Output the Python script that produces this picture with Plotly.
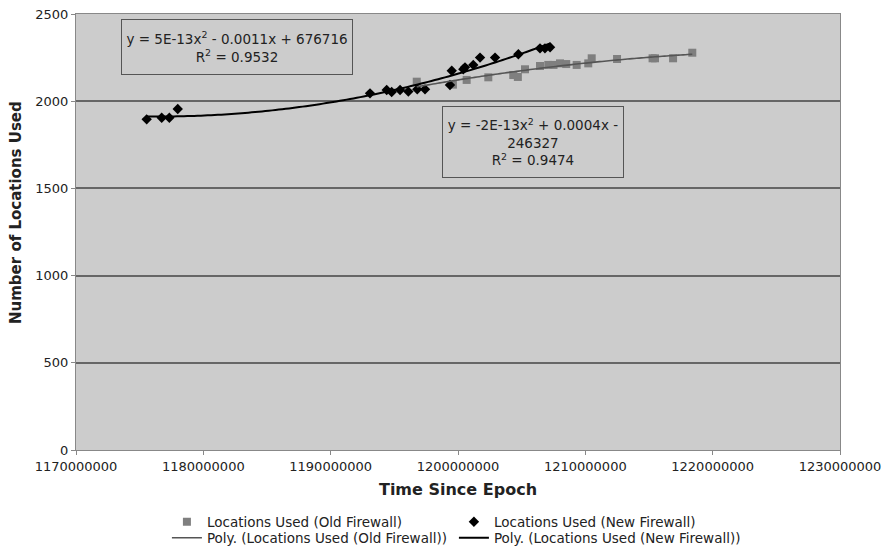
import numpy as np
import plotly.graph_objects as go

# ---- data ----
old_x = [1196760000, 1199600000, 1200680000, 1202380000, 1204340000, 1204700000,
         1205260000, 1206440000, 1207090000, 1207500000, 1208010000, 1208500000,
         1209320000, 1210230000, 1210500000, 1212490000, 1215280000, 1215470000,
         1216890000, 1218400000]
old_y = [2112, 2095, 2122, 2137, 2150, 2139,
         2183, 2202, 2208, 2208, 2217, 2213,
         2208, 2217, 2246, 2242, 2246, 2246,
         2246, 2278]

new_x = [1175550000, 1176730000, 1177330000, 1177990000, 1193090000, 1194400000,
         1194790000, 1195450000, 1196100000, 1196800000, 1197410000, 1199370000,
         1199510000, 1200420000, 1200550000, 1201200000, 1201730000, 1202910000,
         1204740000, 1206440000, 1206830000, 1207230000]
new_y = [1896, 1905, 1905, 1955, 2045, 2064,
         2053, 2064, 2055, 2068, 2068, 2093,
         2175, 2183, 2194, 2208, 2250, 2250,
         2269, 2303, 2303, 2309]

x_ticks = [1170000000, 1180000000, 1190000000, 1200000000, 1210000000, 1220000000, 1230000000]
y_ticks = [0, 500, 1000, 1500, 2000, 2500]

eq_old = "y = -2E-13x<sup>2</sup> + 0.0004x -<br>246327<br>R<sup>2</sup> = 0.9474"
eq_new = "y = 5E-13x<sup>2</sup> - 0.0011x + 676716<br>R<sup>2</sup> = 0.9532"

FONT = "DejaVu Sans"


def trend(xs, ys):
    p = np.polynomial.Polynomial.fit(np.array(xs, float), np.array(ys, float), 2)
    tx = np.linspace(min(xs), max(xs), 120)
    return tx, p(tx)


fig = go.Figure()

fig.add_trace(go.Scatter(
    x=old_x, y=old_y, mode="markers", name="Locations Used (Old Firewall)",
    marker=dict(symbol="square", size=8, color="#7f7f7f"), legend="legend"))
fig.add_trace(go.Scatter(
    x=new_x, y=new_y, mode="markers", name="Locations Used (New Firewall)",
    marker=dict(symbol="diamond", size=8, color="#000000"), legend="legend"))

tx, ty = trend(old_x, old_y)
fig.add_trace(go.Scatter(
    x=tx, y=ty, mode="lines", name="Poly. (Locations Used (Old Firewall))",
    line=dict(color="#555555", width=1.6, simplify=False), legend="legend2"))
tx, ty = trend(new_x, new_y)
fig.add_trace(go.Scatter(
    x=tx, y=ty, mode="lines", name="Poly. (Locations Used (New Firewall))",
    line=dict(color="#000000", width=2, simplify=False), legend="legend2"))

fig.add_annotation(
    xref="paper", yref="paper", x=0.211, y=0.924, xanchor="center", yanchor="middle",
    text=eq_new, showarrow=False,
    font=dict(family=FONT, size=13.5, color="#222"), align="center",
    width=226, height=50, bordercolor="#555555", borderwidth=1, borderpad=2,
    bgcolor="#cccccc")
fig.add_annotation(
    xref="paper", yref="paper", x=0.598, y=0.706, xanchor="center", yanchor="middle",
    text=eq_old, showarrow=False,
    font=dict(family=FONT, size=13.5, color="#222"), align="center",
    width=176, height=66, bordercolor="#555555", borderwidth=1, borderpad=2,
    bgcolor="#cccccc")

# y-axis title (placed as in the reference, slightly above the plot centre)
fig.add_annotation(
    xref="paper", yref="paper", x=-0.0785, y=0.5436, xanchor="center", yanchor="middle",
    text="<b>Number of Locations Used</b>", textangle=-90, showarrow=False,
    font=dict(family=FONT, size=15, color="#222"))

legend_common = dict(orientation="h", x=0.119, xanchor="left", yanchor="middle",
                     font=dict(family=FONT, size=13.5, color="#222"),
                     bgcolor="rgba(0,0,0,0)", itemwidth=30,
                     entrywidth=242, entrywidthmode="pixels")

fig.update_layout(
    width=884, height=555,
    margin=dict(l=76, r=44, t=14, b=105, autoexpand=False),
    paper_bgcolor="white", plot_bgcolor="#cccccc",
    font=dict(family=FONT, size=13, color="#222"),
    showlegend=True,
    legend=dict(y=-0.1651, **legend_common),
    legend2=dict(y=-0.2018, **legend_common),
    xaxis=dict(range=[1170000000, 1230000000], tickvals=x_ticks,
               ticktext=[str(v) for v in x_ticks], showgrid=False, zeroline=False,
               showline=True, linecolor="#888888", linewidth=1, mirror=True,
               ticks="outside", ticklen=4, tickcolor="#888888",
               title=dict(text="<b>Time Since Epoch</b>", font=dict(size=16), standoff=11),
               tickfont=dict(size=13)),
    yaxis=dict(range=[0, 2500], tickvals=y_ticks, showgrid=True, gridcolor="#666666",
               gridwidth=2, zeroline=False, showline=True, linecolor="#888888",
               linewidth=1, mirror=True, ticks="outside", ticklen=4, tickcolor="#888888",
               tickfont=dict(size=13)),
)

fig.write_html("out.html")
